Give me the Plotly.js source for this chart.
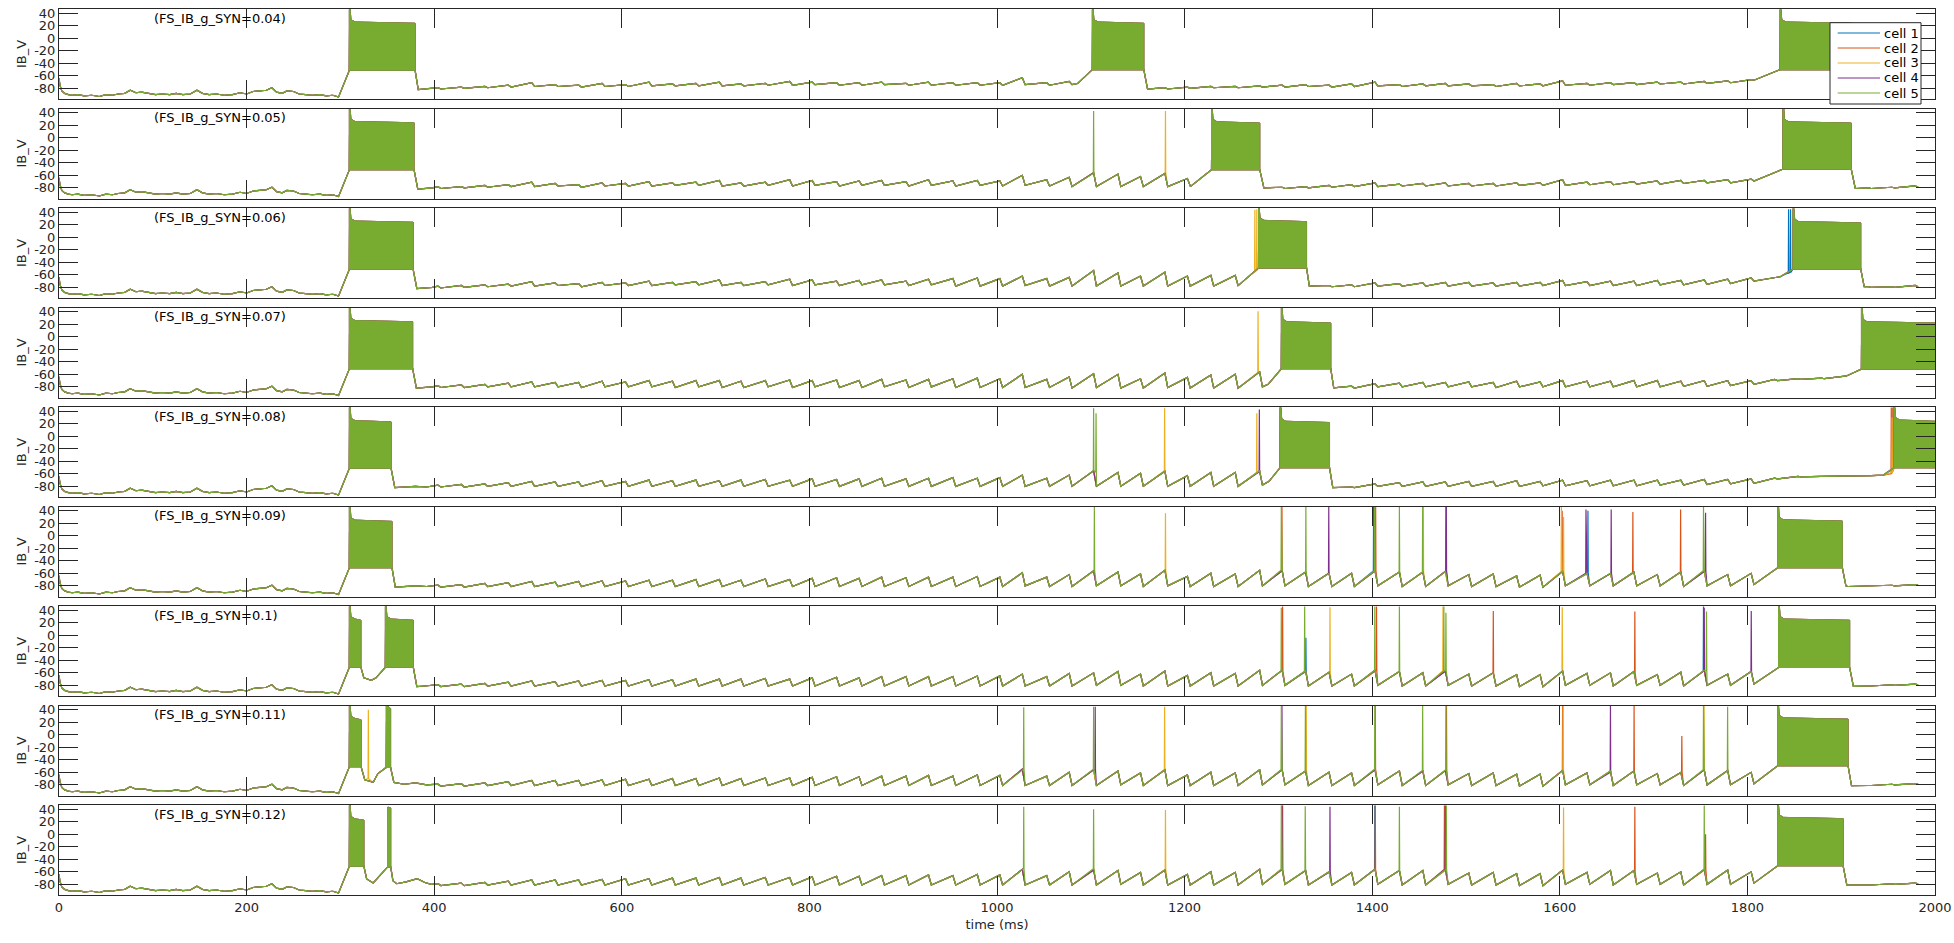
<!DOCTYPE html>
<html><head><meta charset="utf-8">
<script src="https://cdn.plot.ly/plotly-3.0.1.min.js"></script>
<style>html,body{margin:0;padding:0;background:#fff}#chart{width:1954px;height:943px}</style>
</head><body><div id="chart"></div>
<script>
// ---------------- DATA ----------------
const cellNames = ['cell 1','cell 2','cell 3','cell 4','cell 5'];
const panelLabels = ['(FS_IB_g_SYN=0.04)','(FS_IB_g_SYN=0.05)','(FS_IB_g_SYN=0.06)','(FS_IB_g_SYN=0.07)','(FS_IB_g_SYN=0.08)','(FS_IB_g_SYN=0.09)','(FS_IB_g_SYN=0.1)','(FS_IB_g_SYN=0.11)','(FS_IB_g_SYN=0.12)'];
const xTicks = [0,200,400,600,800,1000,1200,1400,1600,1800,2000];
const yTicks = [-80,-60,-40,-20,0,20,40];
const yTickText = ['-80','-60','-40','-20','0','20','40'];

// common start of every trace (0-298 ms)
const early_t = [0,1,3,6,10,14,20,27,35,43,50,57,63,70,76,82,88,95,103,110,118,125,132,140,147,153,160,168,176,185,193,200,207,214,221,227,232,238,243,250,256,263,270,278,285,292,298];
const early_v = [-64,-75,-84,-88,-90,-91,-90,-92,-91,-93,-90,-91,-89,-88,-83,-87,-86,-88,-90,-89,-90,-88,-90,-89,-83,-88,-90,-89,-91,-90,-87,-89,-85,-84,-83,-79,-86,-88,-84,-85,-89,-90,-91,-90,-92,-91,-94];

// subthreshold oscillation: crest times and trough times (ms)
const osc_pk_t = [404,429,454,479,504,529,554,579,604,629,654,679,704,727,753,779,803,829,853,877,903,927,953,979,1003,1027,1053,1077,1103,1129,1153,1179,1203,1228,1254,1280,1304,1329,1354,1378,1403,1429,1454,1478,1503,1529,1554,1579,1603,1629,1654,1679,1704,1729,1754,1779,1804,1829,1854,1879,1904,1929,1954,1979];
const osc_tr_t = [407,432,457,482,507,532,557,582,607,632,657,682,707,730,756,782,806,832,856,880,906,930,956,982,1006,1030,1056,1080,1106,1132,1156,1182,1206,1231,1257,1283,1307,1332,1357,1381,1406,1432,1457,1481,1506,1532,1557,1582,1606,1632,1657,1682,1707,1732,1757,1782,1807,1832,1857,1882,1907,1932,1957,1982];

// crest / trough voltages per panel (mV)
const pk_p1 = [-79,-78,-77,-75,-71,-74,-75,-72,-74,-70,-73,-72, -70,-73,-72,-69,-70,-71,-71,-70,-72,-70,-71,-71, -71,-63,-71,-69,-70,-70,-70,-79,-78,-77,-77,-76, -75,-74,-75,-73,-70,-74,-73,-72,-73,-74,-72,-73, -68,-72,-71,-71,-70,-70,-69,-68,-66,-62,-60,-60, -60,-79,-79,-78];
const tr_p1 = [-81,-80,-79,-78,-77,-77,-78,-77,-77,-76,-76,-76, -76,-76,-75,-75,-74,-75,-75,-74,-75,-75,-75,-75, -75,-74,-75,-74,-74,-74,-74,-81,-80,-79,-79,-78, -78,-77,-78,-77,-76,-77,-76,-76,-76,-77,-76,-76, -75,-75,-74,-74,-73,-73,-72,-71,-70,-62,-60,-60, -60,-81,-80,-80];
const pk_p2 = [-78,-78,-76,-75,-71,-73,-75,-72,-73,-70,-72,-71, -68,-72,-71,-67,-68,-70,-69,-68,-70,-67,-69,-68, -69,-60,-67,-63,-56,-58,-62,-57,-65,-60,-60,-60, -79,-78,-76,-75,-72,-74,-73,-72,-73,-73,-72,-72, -67,-71,-70,-70,-69,-68,-68,-67,-66,-62,-60,-60, -60,-80,-79,-77];
const tr_p2 = [-81,-80,-79,-78,-78,-77,-79,-77,-77,-77,-76,-76, -77,-77,-76,-77,-76,-77,-76,-76,-77,-76,-77,-76, -77,-76,-77,-78,-78,-78,-78,-78,-77,-77,-77,-77, -81,-80,-79,-78,-78,-77,-77,-77,-77,-77,-76,-76, -76,-75,-75,-74,-74,-73,-72,-72,-71,-62,-60,-60, -60,-81,-80,-79];
const pk_p3 = [-78,-77,-76,-75,-71,-73,-74,-72,-73,-70,-72,-71, -68,-72,-71,-67,-68,-70,-69,-68,-70,-67,-66,-65, -66,-62,-66,-64,-53,-57,-62,-56,-62,-61,-61,-60, -60,-60,-77,-76,-73,-74,-73,-72,-72,-73,-72,-72, -69,-71,-70,-70,-69,-69,-68,-67,-65,-60,-55,-55, -55,-79,-79,-77];
const tr_p3 = [-81,-80,-79,-78,-78,-77,-79,-77,-77,-77,-76,-76, -77,-77,-76,-77,-76,-77,-76,-76,-77,-76,-78,-78, -78,-77,-78,-78,-78,-78,-78,-78,-78,-78,-77,-77, -77,-77,-79,-79,-78,-78,-78,-78,-78,-78,-78,-77, -77,-77,-77,-77,-76,-76,-75,-74,-72,-60,-55,-55, -55,-80,-80,-79];
const pk_p4 = [-78,-77,-76,-74,-72,-73,-73,-71,-72,-70,-71,-70, -70,-71,-70,-69,-70,-69,-70,-68,-69,-68,-67,-66, -67,-60,-68,-64,-59,-60,-67,-58,-65,-61,-60,-56, -60,-60,-60,-79,-75,-74,-73,-73,-72,-73,-71,-72, -70,-71,-71,-70,-70,-71,-70,-70,-70,-68,-67,-66, -63,-60,-60,-60];
const tr_p4 = [-81,-81,-80,-80,-80,-80,-81,-80,-80,-80,-81,-80, -81,-81,-80,-81,-80,-81,-81,-80,-81,-80,-81,-81, -81,-81,-81,-82,-81,-82,-82,-81,-82,-82,-82,-80, -60,-60,-60,-82,-80,-80,-80,-80,-80,-81,-80,-80, -80,-80,-80,-80,-80,-79,-79,-78,-76,-70,-68,-67, -65,-60,-60,-60];
const pk_p5 = [-78,-77,-76,-74,-72,-73,-73,-71,-72,-70,-71,-70, -71,-70,-69,-70,-68,-69,-68,-67,-68,-67,-66,-67, -66,-62,-67,-62,-55,-58,-59,-56,-63,-58,-58,-55, -60,-60,-60,-81,-76,-74,-73,-73,-72,-72,-71,-72, -70,-71,-70,-70,-70,-70,-69,-69,-68,-67,-64,-64, -63,-63,-62,-60];
const tr_p5 = [-81,-81,-80,-80,-80,-80,-80,-80,-80,-80,-80,-80, -80,-80,-80,-80,-80,-80,-80,-80,-80,-80,-80,-80, -80,-80,-80,-80,-80,-80,-80,-80,-80,-80,-80,-78, -60,-60,-60,-82,-80,-80,-80,-80,-80,-80,-80,-79, -79,-79,-79,-79,-78,-78,-77,-76,-75,-68,-65,-64, -64,-63,-62,-60];
const pk_p6 = [-79,-78,-76,-75,-73,-74,-73,-72,-72,-71,-71,-70, -70,-71,-69,-70,-68,-67,-68,-66,-67,-66,-66,-65, -66,-59,-66,-62,-56,-58,-61,-55,-65,-60,-61,-55, -56,-58,-60,-60,-56,-58,-58,-57,-62,-61,-64,-63, -57,-60,-60,-58,-62,-58,-56,-62,-60,-55,-55,-55, -55,-80,-79,-78];
const tr_p6 = [-82,-82,-81,-81,-81,-81,-81,-81,-81,-81,-81,-81, -81,-81,-81,-81,-81,-81,-81,-81,-81,-81,-81,-81, -81,-80,-81,-81,-80,-80,-81,-80,-81,-81,-81,-80, -80,-81,-81,-81,-80,-81,-81,-80,-81,-81,-82,-82, -80,-80,-80,-80,-80,-81,-80,-80,-78,-55,-55,-55, -81,-81,-80,-79];
const pk_p7 = [-79,-78,-77,-75,-73,-74,-73,-72,-72,-71,-71,-70, -70,-70,-69,-70,-68,-67,-68,-66,-66,-66,-66,-65, -65,-62,-66,-61,-60,-58,-62,-57,-64,-60,-61,-56, -56,-57,-59,-62,-56,-58,-60,-57,-62,-60,-63,-63, -57,-61,-60,-58,-63,-59,-56,-62,-58,-55,-55,-55, -55,-81,-79,-78];
const tr_p7 = [-82,-82,-81,-81,-81,-81,-81,-81,-81,-81,-81,-81, -81,-81,-81,-81,-81,-81,-81,-81,-81,-81,-81,-81, -81,-81,-81,-81,-80,-80,-81,-81,-81,-81,-81,-80, -80,-81,-81,-81,-80,-81,-81,-80,-81,-81,-82,-82, -80,-80,-81,-80,-80,-81,-80,-80,-78,-55,-55,-55, -81,-81,-80,-79];
const pk_p8 = [-79,-78,-77,-75,-73,-73,-73,-72,-71,-71,-70,-70, -69,-70,-69,-69,-68,-67,-67,-66,-66,-65,-66,-64, -65,-55,-66,-60,-56,-58,-61,-56,-64,-60,-61,-56, -56,-58,-60,-61,-56,-58,-58,-57,-62,-61,-63,-63, -57,-61,-58,-58,-62,-60,-56,-57,-60,-55,-55,-55, -55,-81,-79,-78];
const tr_p8 = [-82,-82,-81,-81,-81,-81,-81,-81,-81,-81,-81,-81, -81,-81,-81,-81,-81,-81,-81,-81,-81,-81,-81,-81, -81,-81,-81,-81,-81,-80,-81,-81,-81,-81,-81,-80, -80,-81,-81,-81,-80,-81,-81,-80,-81,-81,-82,-82, -80,-80,-81,-80,-80,-81,-80,-80,-78,-55,-55,-55, -81,-81,-80,-79];
const pk_p9 = [-79,-78,-77,-75,-73,-73,-73,-72,-71,-71,-70,-70, -69,-70,-69,-69,-68,-67,-67,-66,-66,-65,-66,-64, -65,-56,-66,-60,-57,-58,-61,-57,-64,-60,-61,-56, -56,-58,-60,-61,-56,-58,-58,-57,-62,-61,-63,-63, -57,-61,-58,-58,-62,-60,-56,-57,-60,-55,-55,-55, -55,-81,-79,-78];
const tr_p9 = [-82,-82,-81,-81,-81,-81,-81,-81,-81,-81,-81,-81, -81,-81,-81,-81,-81,-81,-81,-81,-81,-81,-81,-81, -81,-81,-81,-81,-81,-80,-81,-81,-81,-81,-81,-80, -80,-81,-81,-81,-80,-81,-81,-80,-81,-81,-82,-82, -80,-80,-81,-80,-80,-81,-80,-80,-78,-55,-55,-55, -81,-81,-80,-79];

// bursts: panel, ramp start (t0,v0), burst start/end, trough level, crest level, first spike, recovery (t1,v1)
const burst_panel = [1,1,1, 2,2,2, 3,3,3, 4,4,4, 5,5,5, 6,6, 7,7,7, 8,8,8, 9,9,9];
const burst_t0 = [298,1086,1807, 298,1207,1807, 298,1258,1807, 298,1289,1905, 298,1290,1945, 298,1807, 298,338,1807, 298,340,1807, 298,335,1807];
const burst_v0 = [-94,-72,-67, -94,-77,-69, -94,-76,-70, -94,-76,-63, -94,-72,-62, -94,-78, -94,-68,-78, -94,-62,-78, -94,-77.7,-78];
const burst_s = [309.6,1101.7,1835, 309.6,1228.7,1838, 309.6,1278.8,1848.8, 309.6,1303.2,1921.6, 309.6,1301.9,1956.4, 309.6,1832.4, 309.6,348,1833.3, 309.6,349,1832.4, 309.6,350.4,1832.4];
const burst_e = [379.6,1156.5,1911, 378.5,1280.1,1910.7, 377.5,1330,1920.8, 377,1355.8,2000, 354,1354.5,2000, 355,1901.2, 321.8,377.7,1909, 322,353.5,1907.3, 325,353.6,1902];
const burst_bot = [-51,-50,-50, -51,-51,-50, -51,-49,-50.5, -51,-51,-51.5, -51,-50,-50, -51,-51, -51,-51,-51.5, -51,-52,-49.5, -51,-52,-50.2];
const burst_top = [24,24,24, 24,23.5,23.5, 24,25,23, 24,22,22, 23,22,24, 23,23.5, 24,24,24, 24,40,25, 22.6,40,25];
const burst_peak = [46,46,46, 46,46,46, 46,46,46, 46,46,46, 46,46,46, 46,46, 46,46,46, 46,46,46, 46,43,46];
const burst_t1 = [383,1160.5,1915, 382.5,1284.5,1915, 381.5,1333,1924.5, 381,1359,2000.5, 358,1358,2000.5, 358.5,1905, 325,381.5,1913, 326,357,1911, 328,356,1906];
const burst_v1 = [-82,-81,-81, -82,-80,-81, -82,-78,-79, -82,-81.5,-51.5, -82,-82,-50, -82,-80, -68,-82,-81.5, -72,-76,-81.4, -71.4,-74,-81];

// extra panel-specific points (recovery after the first burst etc.)
const extra_panel = [1,1, 2,2, 3,3,3, 4,4, 5,5,5, 6,6,6, 7,7,7, 8,8,8,8, 9,9,9,9,9];
const extra_t = [390,398, 390,398, 390,398,1835, 390,398, 368,380,392, 368,380,392, 333,390,398, 335,368,380,392, 360,370,382,390,397];
const extra_v = [-81,-80, -81,-80, -81,-80,-63, -81,-80, -81,-80,-81, -81,-80,-81, -72,-81,-80, -76,-79,-77,-80, -79,-76,-71,-77,-80];

// single action potentials: panel, cell, time, peak, foot
const spike_panel = [2,2, 3,3,3,3, 4, 5,5,5,5,5,5,5,5,
  6,6,6,6,6,6,6,6,6,6,6,6,6,6,6,6,6,6,6,6,6,6,6,6,
  7,7,7,7,7,7,7,7,7,7,7,7,7,7,7,7,7,7,
  8,8,8,8,8,8,8,8,8,8,8,8,8,8,8,8,8,8,8,8,8,8,
  9,9,9,9,9,9,9,9,9,9,9,9,9,9,9,9,9,9];
const spike_cell = [5,3, 3,3,1,1, 3, 5,5,3,3,4,2,3,2,
  5,3,5,2,5,4,1,5,2,5,5,3,1,4,3,2,3,4,1,4,2,2,5,4,
  5,2,5,1,3,5,2,5,3,5,5,2,3,2,1,4,5,4,
  3,5,5,4,3,5,4,5,3,5,2,5,5,2,2,3,4,2,2,5,3,5,
  5,5,3,5,4,2,5,4,1,2,5,2,4,5,3,2,5,2];
const spike_t = [1103,1179.6, 1274.9,1277,1843.9,1846, 1278.3, 1103,1105.6,1178.7,1277,1279.7,1953.4,1954.2,1955,
  1103.8,1179.6,1303.1,1303.8,1329.3,1353.7,1401.5,1402.5,1403.7,1429,1453.8,1454.5,1478.6,1479,1601.7,1602.5,1604,1627.9,1630,1654.8,1677.9,1728.8,1753.2,1755.4,
  1303.1,1304.5,1328,1329.3,1355,1402.8,1404.6,1429,1475.5,1476.4,1478.6,1529.1,1602.6,1680,1753.2,1754,1756.4,1804.1,
  329.8,1028.5,1103,1104.7,1178.7,1303.1,1303.8,1328.8,1329.7,1402.8,1403.3,1453.8,1478.6,1479.2,1603,1603.6,1654,1679.2,1730.1,1753.2,1753.8,1778.9,
  1028.5,1103,1179.6,1303.1,1303.8,1304.5,1328.6,1355,1402.8,1403.3,1429,1477,1478,1479,1604,1680,1754,1755.4];
const spike_peak = [43,43, 44,45,45,45, 41, 45,37,45,37,43,46,30,46,
  46,36,46,46,46,46,46,46,46,46,46,46,46,46,46,40,30,42,40,42,38,42,46,37,
  44,46,46,-4,45,46,46,46,46,46,36,39,45,38,46,44,38,39,
  40,44,45,45,45,46,46,46,46,46,46,46,46,46,46,46,46,46,-2,46,46,45,
  44,40,39,46,46,46,45,44,46,46,44,46,46,46,43,44,46,0];
const spike_foot = [-57,-56, -55,-53,-57,-56, -57, -55,-57,-55,-58,-57,-60,-58,-56,
  -56,-55,-55,-55,-58,-60,-56,-56,-56,-58,-58,-58,-56,-56,-57,-57,-57,-60,-60,-60,-60,-58,-56,-56,
  -57,-57,-58,-58,-60,-56,-56,-58,-57,-57,-57,-60,-58,-60,-57,-57,-57,-58,
  -70,-55,-55,-56,-56,-56,-56,-58,-58,-55,-55,-57,-56,-56,-57,-57,-60,-58,-60,-56,-56,-58,
  -55,-55,-56,-56,-56,-56,-58,-60,-56,-56,-58,-56,-56,-56,-58,-60,-56,-56];

// ---------------- DRAWING ----------------
const colors = ['#0072BD','#D95319','#EDB120','#7E2F8E','#77AC30'];
const pkAll = [pk_p1,pk_p2,pk_p3,pk_p4,pk_p5,pk_p6,pk_p7,pk_p8,pk_p9];
const trAll = [tr_p1,tr_p2,tr_p3,tr_p4,tr_p5,tr_p6,tr_p7,tr_p8,tr_p9];
const FONT = 'DejaVu Sans, Arial, sans-serif';
const traces = [];
for (let p = 1; p <= 9; p++) {
  const xa = p === 1 ? 'x' : 'x' + p, ya = p === 1 ? 'y' : 'y' + p;
  const bI = []; burst_panel.forEach((q, i) => { if (q === p) bI.push(i); });
  for (let c = 1; c <= 5; c++) {
    const sI = []; spike_panel.forEach((q, i) => { if (q === p && spike_cell[i] === c) sI.push(i); });
    let pts = [];
    early_t.forEach((t, i) => pts.push([t, early_v[i]]));
    osc_pk_t.forEach((t, i) => pts.push([t, pkAll[p-1][i]]));
    osc_tr_t.forEach((t, i) => pts.push([t, trAll[p-1][i]]));
    pts = pts.filter(([t]) => !bI.some(i => t >= burst_t0[i] && t <= burst_t1[i]) &&
                              !sI.some(i => Math.abs(t - spike_t[i]) < 0.35));
    extra_panel.forEach((q, i) => { if (q === p) pts.push([extra_t[i], extra_v[i]]); });
    bI.forEach(i => {
      pts.push([burst_t0[i], burst_v0[i]], [burst_s[i], burst_bot[i]], [burst_s[i] + 0.3, burst_peak[i]],
               [burst_s[i] + 0.8, burst_bot[i]], [burst_e[i], burst_bot[i]], [burst_t1[i], burst_v1[i]]);
    });
    sI.forEach(i => {
      pts.push([spike_t[i] - 0.3, spike_foot[i]], [spike_t[i], spike_peak[i]], [spike_t[i] + 0.3, spike_foot[i]]);
    });
    pts.sort((a, b) => a[0] - b[0]);
    traces.push({type: 'scatter', mode: 'lines', x: pts.map(d => d[0]), y: pts.map(d => d[1]),
      xaxis: xa, yaxis: ya, name: cellNames[c-1], legendgroup: 'c' + c, showlegend: false,
      line: {color: colors[c-1], width: 1.2}, hoverinfo: 'skip'});
    const px = [], py = [];
    bI.forEach(i => {
      const s = burst_s[i], e = burst_e[i], b = burst_bot[i], tp = burst_top[i], pk = burst_peak[i];
      px.push(s, s, Math.min(s + 0.8, e), Math.min(s + 1.6, e), Math.min(s + 6, e), e, e, null);
      py.push(b, pk, pk, Math.min(tp + 6, pk), tp + 2, tp, b, null);
    });
    if (px.length) traces.push({type: 'scatter', mode: 'lines', x: px, y: py, fill: 'toself',
      fillcolor: colors[c-1], line: {color: colors[c-1], width: 0.8}, xaxis: xa, yaxis: ya,
      showlegend: false, legendgroup: 'c' + c, hoverinfo: 'skip'});
  }
}

const W = 1954, H = 943, ML = 59, MR = 19, MT = 9, MB = 48;
const plotW = W - ML - MR, plotH = H - MT - MB, pitch = 99.5, ph = 90;
const layout = {
  width: W, height: H,
  margin: {l: ML, r: MR, t: MT, b: MB},
  paper_bgcolor: '#fff', plot_bgcolor: '#fff',
  font: {family: FONT, size: 13, color: '#262626'},
  showlegend: false,
  annotations: [], shapes: [],
  hovermode: false
};
for (let p = 1; p <= 9; p++) {
  const k = p - 1;
  const sfx = p === 1 ? '' : String(p);
  const dom = [1 - (pitch * k + ph) / plotH, 1 - (pitch * k) / plotH];
  layout['xaxis' + sfx] = {domain: [0, 1], anchor: 'y' + sfx, range: [0, 2000], tickvals: xTicks,
    ticks: 'inside', ticklen: 19, tickcolor: '#262626', tickwidth: 1, mirror: 'ticks', showline: true,
    linecolor: '#262626', linewidth: 1, showgrid: false, zeroline: false, showticklabels: p === 9,
    tickfont: {family: FONT, size: 13, color: '#262626'},
    title: p === 9 ? {text: 'time (ms)', font: {family: FONT, size: 13, color: '#262626'}, standoff: 6} : {text: ''}};
  layout['yaxis' + sfx] = {domain: dom, anchor: 'x' + sfx, range: [-97, 46.8], tickvals: yTicks, ticktext: yTickText,
    ticks: 'inside', ticklen: 19, tickcolor: '#262626', tickwidth: 1, mirror: 'ticks', showline: true,
    linecolor: '#262626', linewidth: 1, showgrid: false, zeroline: false,
    tickfont: {family: FONT, size: 13, color: '#262626'},
    title: {text: 'IB_V', font: {family: FONT, size: 13, color: '#262626'}, standoff: 4}};
  layout.annotations.push({xref: 'x' + sfx, yref: 'y' + sfx + ' domain', x: 100, y: 1 - 9.3 / ph,
    xanchor: 'left', yanchor: 'middle', text: panelLabels[k], showarrow: false, borderpad: 0,
    font: {family: FONT, size: 13, color: '#000'}});
}
// legend box (placed over the top panel like the original)
const fx = px => (px - ML) / plotW, fy = py => 1 - (py - MT) / plotH;
layout.shapes.push({type: 'rect', xref: 'paper', yref: 'paper', x0: fx(1830), x1: fx(1921), y0: fy(104), y1: fy(22.7),
  fillcolor: '#fff', line: {color: '#262626', width: 1}, layer: 'above'});
cellNames.forEach((nm, i) => {
  const yy = 33 + 15 * i;
  layout.shapes.push({type: 'line', xref: 'paper', yref: 'paper', x0: fx(1837.7), x1: fx(1880), y0: fy(yy), y1: fy(yy),
    line: {color: colors[i], width: 1}, layer: 'above'});
  layout.annotations.push({xref: 'paper', yref: 'paper', x: fx(1883), y: fy(yy), xanchor: 'left', yanchor: 'middle',
    text: nm, showarrow: false, borderpad: 0, font: {family: FONT, size: 13, color: '#000'}});
});
Plotly.newPlot('chart', traces, layout, {displayModeBar: false, staticPlot: true});
</script>
</body></html>
